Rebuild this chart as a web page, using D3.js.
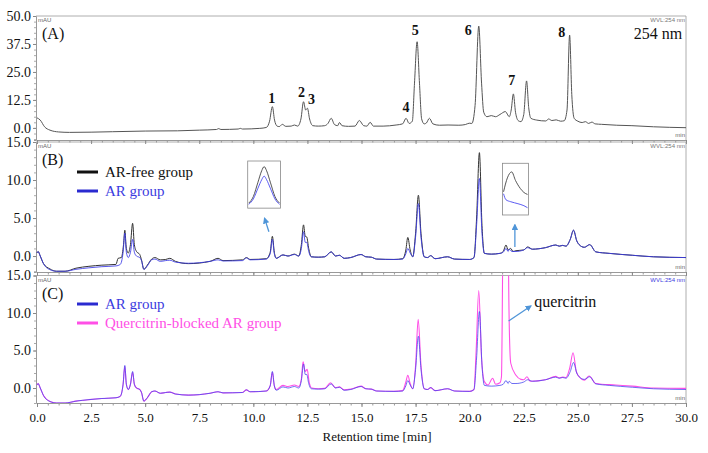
<!DOCTYPE html>
<html>
<head>
<meta charset="utf-8">
<script src="https://cdn.jsdelivr.net/npm/d3@7"></script>
<style>
  body { margin: 0; background: #fff; }
  svg text { font-family: "Liberation Serif", "Times New Roman", serif; }
</style>
</head>
<body>
<svg id="chart" width="708" height="453"></svg>
<script>
// ---- data (time in min, signal in mAU) ----
var panelA = [[0,4.5],[0.15,3.5],[0.35,0.5],[0.6,-1.0],[1.0,-1.8],[1.5,-2.0],[2.5,-1.9],[3.5,-1.7],[5,-1.4],[6.5,-1.3],
  [7.5,-1.0],[8.3,-0.7],[8.4,-0.3],[8.5,-0.7],[9.3,-0.5],[9.4,-0.2],[9.5,-0.5],[10.3,-0.2],[10.6,0.2],[10.75,3.0],
  [10.88,9.5],[10.98,3.5],[11.1,0.8],[11.2,0.6],[11.34,1.6],[11.5,0.7],[11.75,0.8],[11.9,1.3],[12.05,0.8],[12.2,4.0],
  [12.32,11.7],[12.42,8.0],[12.5,8.8],[12.6,4.0],[12.75,1.0],[13.0,0.8],[13.3,1.0],[13.45,2.0],[13.6,4.3],[13.75,1.5],
  [13.9,1.0],[13.98,2.4],[14.1,1.0],[14.4,0.7],[14.7,0.8],[14.9,3.3],[15.1,1.0],[15.25,0.8],[15.4,2.5],[15.55,0.8],
  [16.0,0.8],[16.6,1.3],[16.9,1.8],[17.06,4.3],[17.2,2.0],[17.35,3.0],[17.45,20],[17.57,38.5],[17.68,20],[17.78,4.0],
  [17.9,1.8],[18.0,2.2],[18.14,4.3],[18.3,1.8],[18.6,1.2],[19.0,1.3],[19.5,1.2],[19.8,1.5],[19.98,2.1],[20.1,2.0],
  [20.25,10],[20.42,45.5],[20.55,20],[20.65,7],[20.8,5.0],[21.0,5.5],[21.2,5.0],[21.4,6.0],[21.65,7.3],[21.83,5.0],
  [21.92,8],[22.02,15.2],[22.12,7],[22.25,3.2],[22.37,2.8],[22.5,6],[22.63,21],[22.73,9],[22.83,4.3],[23.1,3.5],
  [23.52,3.1],[23.65,4.0],[23.8,3.3],[24.0,3.6],[24.2,3.0],[24.37,3.2],[24.5,8],[24.62,41.5],[24.72,15],[24.83,4.3],
  [25.0,3.0],[25.2,2.4],[25.35,2.8],[25.5,2.0],[25.65,2.6],[25.8,1.8],[26.1,1.6],[26.8,1.2],[27.5,1.0],[28.5,0.5],[30,0.1]];

var arFree = [[0,0.4],[0.05,0.6],[0.15,0],[0.3,-1.0],[0.6,-1.7],[0.9,-2.0],[1.3,-2.0],[1.8,-1.6],[2.4,-1.35],[3.0,-1.2],
  [3.65,-1.1],[3.75,-0.3],[3.9,-0.2],[4.0,1.5],[4.06,3.4],[4.13,1.0],[4.22,0.4],[4.32,1.5],[4.42,4.3],[4.5,1.5],
  [4.6,0.6],[4.75,0.2],[4.83,-0.5],[4.94,-1.75],[5.1,-1.2],[5.3,-0.4],[5.45,-0.2],[5.7,-0.5],[5.95,-0.45],[6.14,-0.3],
  [6.4,-0.7],[7.0,-1.0],[8.0,-0.7],[8.37,-0.3],[8.6,-0.6],[9.5,-0.5],[9.68,-0.2],[9.85,-0.45],[10.6,-0.35],[10.78,0.5],
  [10.88,2.6],[10.97,0.5],[11.06,-0.3],[11.37,0.15],[11.6,0.0],[11.9,0.25],[12.1,0.0],[12.22,1.5],[12.32,4.1],[12.4,2.6],
  [12.47,2.5],[12.56,1.0],[12.68,-0.1],[13.0,-0.15],[13.3,-0.1],[13.6,0.55],[13.8,0.0],[13.98,0.1],[14.2,-0.3],[14.5,-0.2],
  [14.98,0.2],[15.2,-0.1],[15.45,-0.15],[15.7,-0.4],[16.5,-0.45],[16.9,-0.35],[17.05,0.8],[17.14,2.45],[17.25,0.8],[17.37,-0.1],
  [17.5,3.0],[17.63,8.0],[17.75,3.0],[17.9,-0.1],[18.05,-0.2],[18.2,0.05],[18.4,-0.35],[18.98,-0.1],[19.3,-0.4],[20.0,-0.45],
  [20.2,-0.2],[20.32,5],[20.45,13.6],[20.57,4],[20.68,0.35],[21.0,0.25],[21.4,0.35],[21.55,0.6],[21.68,1.45],[21.78,0.8],
  [21.9,1.0],[22.0,0.6],[22.14,0.7],[22.5,0.8],[22.68,1.2],[22.9,0.9],[23.5,1.1],[23.98,1.45],[24.14,1.3],[24.3,1.4],
  [24.45,1.3],[24.65,2.2],[24.8,3.4],[24.95,2.0],[25.06,1.5],[25.3,1.15],[25.55,1.5],[25.83,0.55],[26.45,0.35],[27.52,0.1],
  [28.5,-0.1],[30,-0.2]];

var arGroup = [[0,0.4],[0.05,0.6],[0.15,0],[0.3,-1.0],[0.6,-1.8],[0.9,-2.0],[1.3,-2.0],[1.8,-1.75],[2.4,-1.55],[3.0,-1.4],
  [3.65,-1.3],[3.85,-1.1],[3.98,0.5],[4.06,3.0],[4.13,0.5],[4.22,-0.2],[4.32,0.5],[4.42,2.2],[4.5,0.5],[4.6,0.0],
  [4.75,-0.2],[4.83,-0.6],[4.94,-1.75],[5.1,-1.3],[5.3,-0.5],[5.45,-0.4],[5.7,-0.7],[5.95,-0.6],[6.14,-0.55],[6.4,-0.8],
  [7.0,-0.95],[8.0,-0.7],[8.37,-0.5],[8.6,-0.65],[9.5,-0.6],[9.68,-0.25],[9.85,-0.5],[10.6,-0.4],[10.78,0.3],[10.88,2.2],
  [10.97,0.3],[11.06,-0.3],[11.37,0.15],[11.6,0.0],[11.9,0.2],[12.1,0.0],[12.22,1.0],[12.32,3.2],[12.4,1.8],[12.47,1.8],
  [12.56,0.6],[12.68,-0.1],[13.0,-0.15],[13.3,-0.1],[13.6,0.55],[13.8,0.0],[13.98,0.1],[14.2,-0.3],[14.5,-0.2],[14.98,0.2],
  [15.2,-0.1],[15.45,-0.15],[15.7,-0.4],[16.5,-0.45],[16.9,-0.4],[17.05,0.3],[17.14,1.0],[17.25,0.4],[17.37,-0.1],[17.5,2.5],
  [17.63,6.9],[17.75,2.5],[17.9,-0.1],[18.05,-0.2],[18.2,0.05],[18.4,-0.35],[18.98,-0.1],[19.3,-0.4],[20.0,-0.45],[20.2,-0.2],
  [20.32,4],[20.45,10.2],[20.57,3],[20.68,0.35],[21.0,0.25],[21.4,0.35],[21.55,0.5],[21.68,1.0],[21.78,0.6],[21.83,0.9],
  [21.95,0.6],[22.14,0.6],[22.5,0.8],[22.68,1.1],[22.9,0.9],[23.5,1.1],[23.98,1.45],[24.14,1.3],[24.3,1.4],[24.45,1.3],
  [24.65,2.2],[24.8,3.4],[24.95,2.0],[25.06,1.5],[25.3,1.15],[25.55,1.5],[25.83,0.55],[26.45,0.35],[27.52,0.1],[28.5,-0.1],
  [30,-0.2]];

var blocked = [[0,0.4],[0.05,0.6],[0.15,0],[0.3,-1.0],[0.6,-1.8],[0.9,-2.0],[1.3,-2.0],[1.8,-1.75],[2.4,-1.55],[3.0,-1.4],
  [3.65,-1.3],[3.85,-1.1],[3.98,0.5],[4.06,2.9],[4.13,0.5],[4.22,-0.2],[4.32,0.5],[4.42,2.1],[4.5,0.5],[4.6,0.0],
  [4.75,-0.2],[4.83,-0.6],[4.94,-1.75],[5.1,-1.3],[5.3,-0.5],[5.45,-0.4],[5.7,-0.7],[5.95,-0.6],[6.14,-0.55],[6.4,-0.8],
  [7.0,-0.95],[8.0,-0.7],[8.37,-0.5],[8.6,-0.65],[9.5,-0.6],[9.68,-0.25],[9.85,-0.5],[10.6,-0.4],[10.78,0.3],[10.88,2.1],
  [10.97,0.3],[11.06,-0.2],[11.37,0.35],[11.6,0.2],[11.9,0.4],[12.1,0.2],[12.22,1.2],[12.3,3.5],[12.4,2.2],[12.49,2.5],
  [12.58,0.8],[12.7,0.0],[13.0,-0.1],[13.3,-0.05],[13.57,0.7],[13.8,0.05],[13.98,0.15],[14.2,-0.25],[14.5,-0.15],[14.98,0.25],
  [15.2,-0.1],[15.45,-0.15],[15.7,-0.4],[16.5,-0.45],[16.9,-0.35],[17.05,0.8],[17.14,1.7],[17.25,0.6],[17.37,-0.1],[17.5,3.0],
  [17.62,9.15],[17.75,3.0],[17.9,-0.1],[18.05,-0.2],[18.2,0.05],[18.4,-0.35],[18.98,-0.1],[19.3,-0.4],[20.0,-0.45],[20.2,-0.2],
  [20.3,5],[20.42,13.0],[20.55,4],[20.68,0.85],[20.85,0.4],[21.06,1.3],[21.2,0.5],[21.4,0.7],[21.47,1.5],[21.52,15],
  [21.57,40],[21.66,48],[21.75,40],[21.8,15],[21.86,5],[21.9,3.3],[22.14,1.7],[22.37,1.15],[22.5,1.1],[22.65,1.5],
  [22.8,0.9],[23.5,1.1],[23.98,1.55],[24.14,1.35],[24.3,1.45],[24.45,1.4],[24.62,2.6],[24.78,4.7],[24.93,2.2],[25.06,1.5],
  [25.3,1.05],[25.52,1.6],[25.83,0.6],[26.75,0.4],[27.52,0.25],[28.5,0.0],[30,-0.05]];

// zoomed inset curves (relative position, relative height)
var inset1Free = [[0,0.25],[0.15,0.8],[0.3,2.0],[0.42,2.95],[0.5,3.3],[0.58,2.95],[0.7,2.0],[0.85,0.8],[1,0.25]];
var inset1AR = [[0,0.15],[0.15,0.6],[0.3,1.5],[0.42,2.2],[0.5,2.5],[0.58,2.2],[0.7,1.5],[0.85,0.6],[1,0.15]];
var inset2Free = [[0,1.6],[0.16,2.65],[0.34,3.1],[0.5,2.45],[0.7,1.85],[0.85,1.55],[1,1.4]];
var inset2AR = [[0,1.45],[0.1,1.0],[0.3,0.85],[0.6,0.7],[0.85,0.55],[1,0.4]];

var xTicks = [0, 2.5, 5, 7.5, 10, 12.5, 15, 17.5, 20, 22.5, 25, 27.5, 30];
var yTicksA = [0, 12.5, 25, 37.5, 50];
var yTicksBC = [0, 5, 10, 15];

var peakNames = ["1", "2", "3", "4", "5", "6", "7", "8"];
var peakNameT = [10.85, 12.23, 12.69, 17.06, 17.48, 19.94, 21.95, 24.26];
var peakNameV = [11.2, 13.8, 10.7, 7.1, 41.5, 41.5, 19.0, 40.8];

// ---- layout ----
var serif = "'Liberation Serif', 'Times New Roman', serif";
var svg = d3.select("#chart");
var x = d3.scaleLinear().domain([0, 30]).range([37, 686]);
var left = 36, right = 686;

var panels = [
  { id: "A", y: d3.scaleLinear().domain([-5.4, 50]).range([140, 16]), ticks: yTicksA, minor: 2.5, wvl: "#777" },
  { id: "B", y: d3.scaleLinear().domain([-2.1, 15]).range([272, 142]), ticks: yTicksBC, minor: 1, wvl: "#777" },
  { id: "C", y: d3.scaleLinear().domain([-2.0, 15]).range([403, 275.5]), ticks: yTicksBC, minor: 1, wvl: "#3a3ae0" }
];

var fmt = d3.format(".1f");

panels.forEach(function (p) {
  var top = p.y.range()[1], bot = p.y.range()[0];
  var g = svg.append("g");

  svg.append("clipPath").attr("id", "clip" + p.id)
    .append("rect").attr("x", left).attr("y", top).attr("width", right - left).attr("height", bot - top);

  // frame
  g.append("path")
    .attr("d", "M" + left + "," + top + "H" + right + "V" + bot)
    .attr("fill", "none").attr("stroke", "#999").attr("stroke-width", 0.8);

  // left axis
  var minorVals = d3.range(p.y.domain()[0] < 0 ? -p.minor * Math.floor(-p.y.domain()[0] / p.minor) : 0, p.y.domain()[1] + 0.01, p.minor);
  g.append("g").attr("transform", "translate(" + left + ",0)")
    .call(d3.axisLeft(p.y).tickValues(minorVals).tickSize(2).tickFormat(""))
    .call(function (s) { s.select(".domain").attr("stroke", "#999"); s.selectAll("line").attr("stroke", "#aaa"); });
  g.append("g").attr("transform", "translate(" + left + ",0)")
    .call(d3.axisLeft(p.y).tickValues(p.ticks).tickSize(3).tickFormat(fmt).tickPadding(2))
    .call(function (s) {
      s.select(".domain").remove();
      s.selectAll("line").attr("stroke", "#888");
      s.selectAll("text").attr("font-size", 14).attr("fill", "#111").attr("font-family", serif);
    });

  // bottom axis
  g.append("g").attr("transform", "translate(0," + bot + ")")
    .call(d3.axisBottom(x).tickValues(d3.range(0, 30.01, 0.5)).tickSize(2.5).tickFormat(""))
    .call(function (s) { s.select(".domain").attr("stroke", "#999"); s.selectAll("line").attr("stroke", "#999"); });
  g.append("g").attr("transform", "translate(0," + bot + ")")
    .call(d3.axisBottom(x).tickValues(xTicks).tickSize(4).tickFormat(p.id === "C" ? fmt : "").tickPadding(6))
    .call(function (s) {
      s.select(".domain").remove();
      s.selectAll("line").attr("stroke", "#888");
      s.selectAll("text").attr("font-size", 13).attr("fill", "#111").attr("font-family", serif);
    });

  // small instrument labels
  g.append("text").attr("x", left + 2).attr("y", top + 6).text("mAU")
    .attr("font-size", 6).attr("fill", "#666").style("font-family", "Arial, sans-serif");
  g.append("text").attr("x", right - 1).attr("y", top + 6).attr("text-anchor", "end").text("WVL:254 nm")
    .attr("font-size", 6).attr("fill", p.wvl).style("font-family", "Arial, sans-serif");
  g.append("text").attr("x", right - 1).attr("y", bot - 3).attr("text-anchor", "end").text("min")
    .attr("font-size", 6).attr("fill", "#666").style("font-family", "Arial, sans-serif");

  g.append("text").attr("x", 42).attr("y", top + 23).text("(" + p.id + ")")
    .attr("font-size", 16).attr("fill", "#111").style("font-family", serif);

  p.line = d3.line().x(function (d) { return x(d[0]); }).y(function (d) { return p.y(d[1]); })
    .curve(d3.curveMonotoneX);
  p.plot = svg.append("g").attr("clip-path", "url(#clip" + p.id + ")");
});

var A = panels[0], B = panels[1], C = panels[2];

// traces
A.plot.append("path").datum(panelA).attr("d", A.line)
  .attr("fill", "none").attr("stroke", "#555").attr("stroke-width", 1);

B.plot.append("path").datum(arFree).attr("d", B.line)
  .attr("fill", "none").attr("stroke", "#333").attr("stroke-width", 1);
B.plot.append("path").datum(arGroup).attr("d", B.line)
  .attr("fill", "none").attr("stroke", "#3b3be6").attr("stroke-width", 1).attr("stroke-opacity", 0.85);

C.plot.append("path").datum(blocked).attr("d", C.line)
  .attr("fill", "none").attr("stroke", "#ff4fe6").attr("stroke-width", 1.1);
C.plot.append("path").datum(arGroup).attr("d", C.line)
  .attr("fill", "none").attr("stroke", "#4a4af0").attr("stroke-width", 1).attr("stroke-opacity", 0.8);

// peak numbers in panel A
svg.append("g").selectAll("text").data(peakNames).join("text")
  .attr("x", function (d, i) { return x(peakNameT[i]); })
  .attr("y", function (d, i) { return A.y(peakNameV[i]); })
  .attr("text-anchor", "middle").attr("font-size", 14).attr("font-weight", "bold").attr("fill", "#111")
  .style("font-family", serif)
  .text(function (d) { return d; });

svg.append("text").attr("x", 658).attr("y", 39).attr("text-anchor", "middle")
  .attr("font-size", 16).attr("fill", "#111").style("font-family", serif).text("254 nm");

// legends
function legend(y0, color, label, textColor) {
  svg.append("line").attr("x1", 77).attr("x2", 98).attr("y1", y0).attr("y2", y0)
    .attr("stroke", color).attr("stroke-width", 3);
  svg.append("text").attr("x", 105).attr("y", y0 + 5).attr("font-size", 15)
    .attr("fill", textColor).style("font-family", serif).text(label);
}
legend(172, "#111", "AR-free group", "#111");
legend(191, "#2a2ad0", "AR group", "#3b3be0");
legend(304, "#2a2ad0", "AR group", "#3b3be0");
legend(323, "#ff4fe6", "Quercitrin-blocked AR group", "#ff4fe6");

// insets in panel B
function inset(t0, t1, v0, v1, freeData, arData, yMax) {
  var x0 = x(t0), x1 = x(t1), yTop = B.y(v1), yBot = B.y(v0);
  var ix = d3.scaleLinear().domain([0, 1]).range([x0 + 1, x1 - 1]);
  var iy = d3.scaleLinear().domain([0, yMax]).range([yBot - 2, yTop + 2]);
  var ln = d3.line().x(function (d) { return ix(d[0]); }).y(function (d) { return iy(d[1]); }).curve(d3.curveMonotoneX);
  svg.append("rect").attr("x", x0).attr("y", yTop).attr("width", x1 - x0).attr("height", yBot - yTop)
    .attr("fill", "#fff").attr("stroke", "#888").attr("stroke-width", 0.8);
  svg.append("path").datum(freeData).attr("d", ln).attr("fill", "none").attr("stroke", "#444").attr("stroke-width", 0.9);
  svg.append("path").datum(arData).attr("d", ln).attr("fill", "none").attr("stroke", "#4a4af0").attr("stroke-width", 0.9);
}
inset(9.74, 11.26, 6.3, 12.5, inset1Free, inset1AR, 3.6);
inset(21.52, 22.72, 5.4, 12.2, inset2Free, inset2AR, 3.6);

// arrows
svg.append("defs").append("marker").attr("id", "head").attr("viewBox", "0 0 10 10")
  .attr("refX", 8).attr("refY", 5).attr("markerWidth", 5).attr("markerHeight", 5).attr("orient", "auto")
  .append("path").attr("d", "M0,0L10,5L0,10z").attr("fill", "#4f95d8");
function arrow(sc, t0, v0, t1, v1) {
  svg.append("line").attr("x1", x(t0)).attr("y1", sc(v0)).attr("x2", x(t1)).attr("y2", sc(v1))
    .attr("stroke", "#4f95d8").attr("stroke-width", 1.3).attr("marker-end", "url(#head)");
}
arrow(B.y, 10.72, 3.2, 10.52, 4.96);
arrow(B.y, 22.09, 1.2, 22.09, 4.1);
arrow(C.y, 21.8, 8.93, 22.83, 10.93);

svg.append("text").attr("x", x(22.98)).attr("y", C.y(10.75)).attr("font-size", 16).attr("fill", "#111")
  .style("font-family", serif).text("quercitrin");

// x title
svg.append("text").attr("x", 377).attr("y", 441).attr("text-anchor", "middle")
  .attr("font-size", 13).attr("fill", "#111").style("font-family", serif).text("Retention time [min]");
</script>
</body>
</html>
